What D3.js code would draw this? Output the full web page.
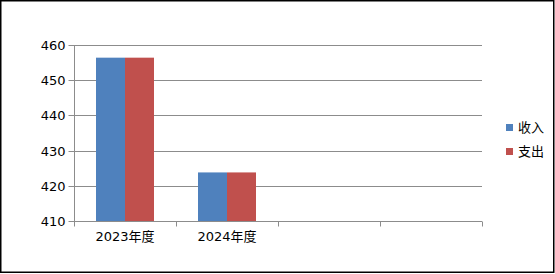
<!DOCTYPE html>
<html><head><meta charset="utf-8">
<script src="https://cdn.jsdelivr.net/npm/d3@7/dist/d3.min.js"></script>
<style>html,body{margin:0;padding:0;background:#fff;}svg{display:block;}</style>
</head><body>
<script>
const categories = ["2023年度", "2024年度", "", " "];
const seriesNames = ["收入", "支出"];
const income = [456.4, 423.8, null, null];
const expense = [456.4, 423.8, null, null];
const yTicks = [410, 420, 430, 440, 450, 460];
const colors = ["#4f81bd", "#c0504d"];

(function () {
const W = 555, H = 274;
const font = "'DejaVu Sans', 'Noto Sans CJK SC', sans-serif";
const svg = d3.select("body").append("svg").attr("width", W).attr("height", H);

svg.append("rect").attr("x", 0.75).attr("y", 0.75).attr("width", 553).attr("height", 271.5)
  .attr("fill", "#fff").attr("stroke", "#000").attr("stroke-width", 1.5);

const pL = 74, pR = 482, pT = 45, pB = 221;
const x = d3.scaleBand().domain(categories).range([pL, pR]).paddingInner(0).paddingOuter(0);
const y = d3.scaleLinear().domain([410, 460]).range([pB, pT]);
const inner = d3.scaleBand().domain(seriesNames).range([0, x.bandwidth()]).paddingInner(0).paddingOuter(22 / 29);

const grid = "#8c8c8c";
svg.append("g").selectAll("line").data(yTicks.filter(t => t !== 410)).join("line")
  .attr("x1", pL).attr("x2", pR)
  .attr("y1", d => Math.round(y(d)) + 0.5).attr("y2", d => Math.round(y(d)) + 0.5)
  .attr("stroke", grid).attr("stroke-width", 1);

const data = [income, expense];
seriesNames.forEach((s, si) => {
  svg.append("g").selectAll("rect").data(categories.map((c, i) => ({c, v: data[si][i]})).filter(d => d.v != null))
    .join("rect")
    .attr("x", d => x(d.c) + inner(s))
    .attr("width", inner.bandwidth())
    .attr("y", d => y(d.v))
    .attr("height", d => y(410) - y(d.v))
    .attr("fill", colors[si]);
});

const yAxis = svg.append("g").attr("transform", `translate(${pL + 0.5},0.5)`)
  .call(d3.axisLeft(y).tickValues(yTicks).tickSize(6).tickPadding(3).tickFormat(d3.format("d")));
yAxis.select(".domain").attr("stroke", grid).attr("d", `M0,${pT}V${pB}`);
yAxis.selectAll(".tick line").attr("stroke", grid);
yAxis.selectAll(".tick").attr("transform", d => `translate(0,${Math.round(y(d))})`);
yAxis.selectAll("text").attr("font-family", font).attr("font-size", 13).attr("fill", "#000");

const xAxis = svg.append("g").attr("transform", `translate(0,${pB + 0.5})`)
  .call(d3.axisBottom(x).tickSize(0).tickPadding(10));
xAxis.select(".domain").attr("stroke", grid).attr("d", `M${pL},0H${pR}`);
xAxis.selectAll("text").attr("font-family", font).attr("font-size", 13).attr("fill", "#000");
const bounds = categories.map(c => x(c)).concat([pR]);
xAxis.append("g").selectAll("line").data(bounds).join("line")
  .attr("x1", d => Math.round(d) + 0.5).attr("x2", d => Math.round(d) + 0.5)
  .attr("y1", 0).attr("y2", 5).attr("stroke", grid);

const lg = svg.append("g");
seriesNames.forEach((s, i) => {
  const cy = 128 + i * 24;
  lg.append("rect").attr("x", 506).attr("y", cy - 4).attr("width", 7).attr("height", 7).attr("fill", colors[i]);
  lg.append("text").attr("x", 518).attr("y", cy).attr("dominant-baseline", "middle")
    .attr("font-family", font).attr("font-size", 13).attr("fill", "#000").text(s);
});
})();
</script>
</body></html>
